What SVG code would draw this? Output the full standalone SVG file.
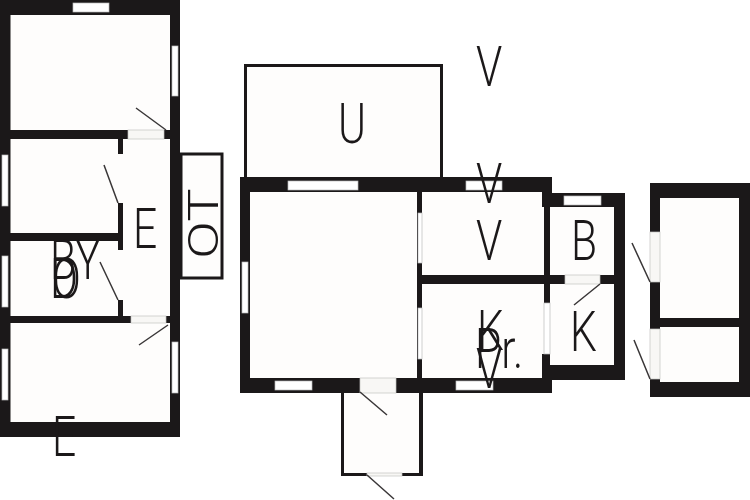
<svg xmlns="http://www.w3.org/2000/svg" width="750" height="500" viewBox="0 0 750 500">
<style>
.w{fill:#1b1819}
.r{fill:#fefdfc}
.win{fill:#fff;stroke:#bbb;stroke-width:.7}
.o{fill:#f8f7f5;stroke:#c4c2c0;stroke-width:.7}
.l{stroke:#3a3738;stroke-width:1.5;fill:none}
.b{stroke:#1b1819;stroke-width:3;fill:#fefdfc}
.t{font-family:Roboto,"Liberation Sans",Arial,sans-serif;font-weight:300;font-size:56px;fill:#1b1819}
</style>
<rect width="750" height="500" fill="#fff"/>
<g id="left-building">
<rect class="b" x="181" y="154" width="41" height="124"/>
<rect class="w" x="0" y="0" width="180" height="437"/>
<rect class="r" x="10.5" y="15" width="159.500" height="115"/>
<rect class="r" x="10.500" y="139" width="159.500" height="94"/>
<rect class="r" x="10.500" y="241" width="159.500" height="75"/>
<rect class="r" x="10.500" y="323" width="159.500" height="99"/>
<rect class="r" x="123" y="139" width="47" height="177"/>
<rect class="w" x="118" y="139" width="5" height="15"/>
<rect class="w" x="118" y="203" width="5" height="47"/>
<rect class="w" x="118" y="300" width="5" height="16"/>
<rect class="o" x="128" y="130" width="36" height="9"/>
<rect class="o" x="131" y="316" width="35" height="7"/>
<rect class="win" x="73" y="3" width="36" height="9"/>
<rect class="win" x="172" y="46" width="6" height="50"/>
<rect class="win" x="2" y="155" width="6" height="51"/>
<rect class="win" x="2" y="256" width="6" height="51"/>
<rect class="win" x="2" y="349" width="6" height="51"/>
<rect class="win" x="172" y="342" width="6" height="51"/>
<path class="l" d="M136 108L166 130M104 165L118 203M100 262L118 300M139 345L168 325"/>
</g>
<g id="middle-building">
<rect class="b" x="245.500" y="65.500" width="196" height="113"/>
<path class="w" d="M341 392h3v81h23v3h-26zM419 392h4v84h-21v-3h17z"/>
<rect class="r" x="344" y="392" width="75" height="81"/>
<rect class="w" x="240" y="177" width="312" height="216"/>
<rect class="w" x="552" y="193" width="73" height="187"/>
<rect class="r" x="250" y="192" width="167" height="186"/>
<rect class="r" x="422" y="192" width="120" height="83"/>
<rect class="r" x="422" y="284" width="120" height="94"/>
<rect class="r" x="542" y="207" width="2" height="68" />
<rect class="r" x="542" y="284" width="2" height="70"/>
<rect class="r" x="550" y="207" width="64" height="68"/>
<rect class="r" x="550" y="284" width="64" height="81"/>
<rect class="win" x="288" y="181" width="70" height="9"/>
<rect class="win" x="466" y="181" width="36" height="9"/>
<rect class="win" x="564" y="196" width="37" height="9"/>
<rect class="win" x="275" y="381" width="37" height="9"/>
<rect class="win" x="456" y="381" width="37" height="9"/>
<rect class="win" x="242" y="262" width="6" height="51"/>
<rect class="win" x="418" y="213" width="4" height="50"/>
<rect class="win" x="418" y="308" width="4" height="51"/>
<rect class="win" x="544" y="303" width="6" height="51"/>
<rect class="o" x="360" y="378" width="36" height="15"/>
<rect class="o" x="565" y="275" width="35" height="9"/>
<rect class="o" x="367" y="473" width="35" height="3"/>
<path class="l" d="M360 392L387 415M367 475L394 499M600 284L574 305"/>
</g>
<g id="right-building">
<rect class="w" x="650" y="183" width="100" height="214"/>
<rect class="r" x="660" y="198" width="79" height="120"/>
<rect class="r" x="660" y="327" width="79" height="55"/>
<rect class="o" x="650" y="232" width="10" height="50"/>
<rect class="o" x="650" y="329" width="10" height="50"/>
<path class="l" d="M632 243L650 282M634 340L650 379"/>
</g>
<g id="labels">
<text class="t" transform="translate(218 259) scale(.76 1) rotate(-90)">OT</text>
<text class="t" transform="translate(133 248) scale(.76 1)">E</text>
<text class="t" transform="translate(50 279) scale(.76 1)">BY</text>
<text class="t" transform="translate(50 298) scale(.76 1)">D</text>
<text class="t" transform="translate(52 298) scale(.76 1)">O</text>
<text class="t" transform="translate(52 456) scale(.76 1)">E</text>
<text class="t" transform="translate(338 143) scale(.76 1)">U</text>
<text class="t" transform="translate(476 86) scale(.76 1)">V</text>
<text class="t" transform="translate(476 203) scale(.76 1)">V</text>
<text class="t" transform="translate(476 260) scale(.76 1)">V</text>
<text class="t" transform="translate(477 350) scale(.76 1)">K</text>
<text class="t" transform="translate(475 368) scale(.76 1)">Pr.</text>
<text class="t" transform="translate(476 388) scale(.76 1)">V</text>
<text class="t" transform="translate(571 260) scale(.76 1)">B</text>
<text class="t" transform="translate(570 351) scale(.76 1)">K</text>
</g>
</svg>
